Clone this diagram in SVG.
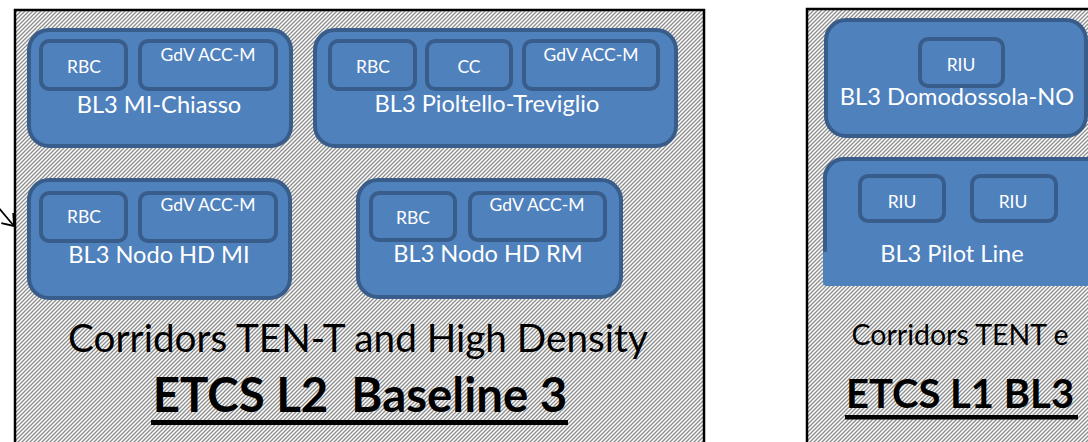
<svg xmlns="http://www.w3.org/2000/svg" width="1088" height="442" viewBox="0 0 1088 442">
  <style>
    .panel { fill: url(#hatch); stroke: #000; stroke-width: 2.5; }
    .box { fill: #4F81BD; stroke: #385D8A; stroke-width: 4; }
    .sub { fill: #4F81BD; stroke: #385D8A; stroke-width: 4; }
    .lbl { font-family: Lato, "Open Sans", "Liberation Sans", sans-serif; fill: #fff; text-anchor: middle; }
    .small { font-size: 17.5px; }
    .name { font-size: 23.6px; }
    .cap { font-family: Lato, "Open Sans", "Liberation Sans", sans-serif; fill: #000; text-anchor: middle; white-space: pre; }
    .conn { stroke: #000; stroke-width: 1.8; fill: none; }
  </style>
  <defs>
    <pattern id="hatch" patternUnits="userSpaceOnUse" width="4" height="4">
      <rect width="4" height="4" fill="#fff"/>
      <path d="M-1,1 L1,-1 M0,4 L4,0 M3,5 L5,3" stroke="#8c8c8c" stroke-width="1.3"/>
    </pattern>
    <marker id="open-head" markerUnits="userSpaceOnUse" viewBox="-12 -10 14 20" markerWidth="14" markerHeight="20" refX="0" refY="0" orient="auto" overflow="visible">
      <path d="M-10.4,-7.8 L0,0 L-10.4,7.8" fill="none" stroke="#000" stroke-width="1.8"/>
    </marker>
  </defs>

  <rect width="1088" height="442" fill="#fff"/>

  <!-- ETCS L2 container -->
  <g id="panel-l2">
    <rect class="panel" x="15" y="10" width="689" height="450"/>
    <text class="cap" x="358" y="352" font-size="38.7">Corridors TEN-T and High Density</text>
    <text class="cap" x="360" y="412" font-size="47.4" font-weight="bold">ETCS L2  Baseline 3</text>
    <rect x="151" y="420" width="417" height="5" fill="#000"/>
  </g>

  <!-- ETCS L1 container -->
  <g id="panel-l1">
    <rect class="panel" x="807" y="9" width="300" height="450"/>
    <text class="cap" x="960" y="345" font-size="28.5">Corridors TENT e</text>
    <text class="cap" x="960" y="408" font-size="40" font-weight="bold">ETCS L1 BL3</text>
    <rect x="845" y="415" width="233" height="4.5" fill="#000"/>
  </g>

  <g id="node-mi-chiasso">
    <rect class="box" x="29" y="30" width="262" height="116" rx="20"/>
    <rect class="sub" x="41" y="41" width="85" height="48" rx="8"/>
    <rect class="sub" x="140" y="41" width="136" height="48" rx="8"/>
    <text class="lbl small" x="84" y="73">RBC</text>
    <text class="lbl small" x="208" y="61">GdV ACC-M</text>
    <text class="lbl name" x="159" y="113">BL3 MI-Chiasso</text>
  </g>

  <g id="node-pioltello-treviglio">
    <rect class="box" x="315" y="30" width="361" height="116" rx="20"/>
    <rect class="sub" x="330" y="41" width="85" height="48" rx="8"/>
    <rect class="sub" x="427" y="41" width="84" height="48" rx="8"/>
    <rect class="sub" x="524" y="41" width="134" height="48" rx="8"/>
    <text class="lbl small" x="373" y="73">RBC</text>
    <text class="lbl small" x="469" y="73">CC</text>
    <text class="lbl small" x="591" y="61">GdV ACC-M</text>
    <text class="lbl name" x="487" y="112">BL3 Pioltello-Treviglio</text>
  </g>

  <g id="node-nodo-hd-mi">
    <rect class="box" x="29" y="180" width="261" height="118" rx="20"/>
    <rect class="sub" x="41" y="193" width="85" height="48" rx="8"/>
    <rect class="sub" x="140" y="193" width="136" height="48" rx="8"/>
    <text class="lbl small" x="84" y="223">RBC</text>
    <text class="lbl small" x="208" y="211">GdV ACC-M</text>
    <text class="lbl name" x="159" y="263">BL3 Nodo HD MI</text>
  </g>

  <g id="node-nodo-hd-rm">
    <rect class="box" x="358" y="180" width="263" height="117" rx="20"/>
    <rect class="sub" x="371" y="193" width="84" height="47" rx="8"/>
    <rect class="sub" x="470" y="193" width="135" height="47" rx="8"/>
    <text class="lbl small" x="413" y="224">RBC</text>
    <text class="lbl small" x="537" y="211">GdV ACC-M</text>
    <text class="lbl name" x="488" y="262">BL3 Nodo HD RM</text>
  </g>

  <g id="node-domodossola-no">
    <rect class="box" x="826" y="20" width="260" height="116" rx="20"/>
    <rect class="sub" x="920" y="39" width="83" height="47" rx="8"/>
    <text class="lbl small" x="961" y="71">RIU</text>
    <text class="lbl name" x="957" y="105">BL3 Domodossola-NO</text>
  </g>

  <g id="node-pilot-line">
    <path d="M823,178 A21,21 0 0 1 844,157 L1100,157 L1100,286 L827,286 A4,4 0 0 1 823,282 Z" fill="#4F81BD"/>
    <path d="M825,252 L825,178 A19,19 0 0 1 844,159 L1100,159" fill="none" stroke="#385D8A" stroke-width="4"/>
    <rect class="sub" x="860" y="176" width="84" height="45" rx="8"/>
    <rect class="sub" x="972" y="176" width="84" height="45" rx="8"/>
    <text class="lbl small" x="902" y="208">RIU</text>
    <text class="lbl small" x="1013" y="208">RIU</text>
    <text class="lbl name" x="952" y="262">BL3 Pilot Line</text>
  </g>

  <g id="connectors">
    <line class="conn" x1="-8" y1="200" x2="14" y2="226" marker-end="url(#open-head)"/>
  </g>
</svg>
